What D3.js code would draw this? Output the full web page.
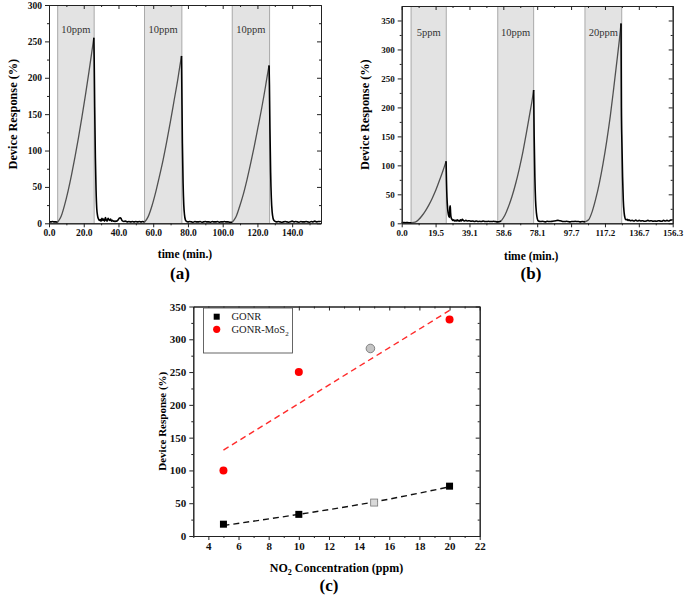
<!DOCTYPE html>
<html>
<head>
<meta charset="utf-8">
<script src="https://cdn.jsdelivr.net/npm/d3@7"></script>
<style>
  html, body { margin: 0; padding: 0; background: #fff; }
  svg { display: block; }
</style>
</head>
<body>
<div id="chart"></div>
<script>
// ---------------- DATA ----------------
// Panel (a): repeated 10 ppm exposures
const aPulseStart = [5, 55, 105.5];
const aPulseEnd   = [26, 76.5, 127];
const aPulseLabel = ["10ppm", "10ppm", "10ppm"];
const aTime = [0,1,2,3,4,5,
  7,9,11,13,15,17,19,21,23,24.5,25.8,
  26,26.3,26.7,27.1,27.5,28,28.5,29,
  29.5,30,30.5,31,31.5,32,32.5,33,33.5,34,34.5,35,35.5,36,36.5,37,37.5,38,38.5,39,39.5,40,40.5,41,41.5,42,42.5,43,44,45,46,47,48,49,50,51,52,53,54,55,
  57.1,59.3,61.4,63.5,65.7,67.8,69.9,72,74.2,75.2,76.3,
  76.5,76.8,77.2,77.6,78,78.5,79,
  80,81,82,83,84,85,86,87,88,89,90,91,92,93,94,95,96,97,98,99,100,101,102,103,104,105.5,
  107.6,109.7,111.9,114,116.1,118.2,120.3,122.5,124.6,125.6,126.7,
  126.9,127.2,127.6,128,128.5,129,129.5,130,
  131,132,133,134,135,136,137,138,139,140,141,142,143,144,145,146,147,148,149,150,151,152,153,154,155,156,156.5];
const aResp = [2,2,2.5,2,2,1.5,
  9.6,25.3,44.7,67,91.5,118,146.5,176.5,208,233,255,
  228,160,90,45,20,10,6,4,
  5,3,7,4,6,3,8,4,3,7,5,4,6,3,4,3,3,2.5,3,3,4,5.5,7,7.5,6.5,4,3,2.5,3,2,2.5,2,2.5,2,2.5,2,2.5,2,2.5,1.5,
  9.2,24.2,42.6,63.7,87.2,112.5,139.6,168.4,198.5,214,230,
  180,110,55,25,12,5,3,
  2,2.5,2,1.5,2.5,2,2,2.5,1.5,2,2.5,2,2,1.5,2.5,2,2,2.5,1.5,2,2,2.5,2,2,1.5,1.5,
  8.6,22.8,40.1,60.1,82.2,106.1,131.7,158.8,187.3,202,217,
  190,130,70,35,15,7,4,3,
  2,2.5,2,1.5,2,2.5,2,1.5,2,3,2,2.5,2,1.5,2.5,2,2,2.5,2,1.5,2.5,2,3,2,2.5,2.5,3];
const aXTicks = [0, 20, 40, 60, 80, 100, 120, 140];
const aXTickLabels = ["0.0", "20.0", "40.0", "60.0", "80.0", "100.0", "120.0", "140.0"];
const aYTicks = [0, 50, 100, 150, 200, 250, 300];

// Panel (b): 5 / 10 / 20 ppm exposures
const bPulseStart = [5.4, 55.4, 105.7];
const bPulseEnd   = [25.7, 76.1, 126.9];
const bPulseLabel = ["5ppm", "10ppm", "20ppm"];
const bTime = [0,1,2,3,4,5,5.8,
  7.8,9.8,11.7,13.7,15.7,17.7,19.7,21.6,23.6,24.6,25.6,
  25.8,26.1,26.5,27,27.5,27.8,28,28.2,28.5,29,29.5,30,30.5,31,31.5,32,32.5,33,33.5,34,34.5,35,35.5,36,37,38,39,40,41,42,43,44,45,46,47,48,49,50,51,52,53,54,55.3,
  57.4,59.5,61.5,63.6,65.7,67.8,69.9,71.9,74,75.1,76.1,
  76.4,76.8,77.2,77.7,78.2,78.8,
  80,81,82,83,84,85,86,87,88,89,90,91,92,93,94,95,96,97,98,99,100,101,102,103,104,105.7,
  107.8,109.9,111.9,114,116.1,118.2,120.3,122.3,124.4,125.5,126.5,
  126.7,127,127.4,127.8,128.3,128.8,129.3,
  130,130.5,131,132,133,134,135,136,137,138,139,140,141,142,143,144,145,146,147,148,149,150,151,152,153,154,155,156.3];
const bResp = [1,1.5,1,1.5,1,1,1,
  1.9,6.4,13,21.5,31.8,43.8,57.4,72.4,89,97.8,107,
  75,45,25,14,10,28,30,18,10,7,5,6,4,5,4,6,4,5,3.5,6,4,7,5,4,5,4,4.5,3.5,4,3,4,3,3.5,3,4,3,3,3.5,3,3,3.5,3,2.5,
  4.1,13.8,28,46.2,68.3,94.1,123.3,155.7,191.4,210.2,230,
  150,80,40,18,8,4,
  3,3.5,3,2.5,3.5,3,3,3.5,4,4.5,5,4.5,4,3,3,3.5,3,2.5,3,3,3.5,3,3,2.5,3,2.5,
  6.1,20.6,42,69.3,102.5,141.1,184.9,233.6,287,315.3,345,
  200,140,80,40,18,9,6,
  7,5,6,4.5,5,4,5.5,4,5,4,4.5,3.5,4,5,4,4.5,3.5,4,3.5,4.5,4,3.5,5,4,5,4,5.5,6];
const bXTicks = [0, 19.54, 39.08, 58.61, 78.15, 97.69, 117.23, 136.76, 156.3];
const bXTickLabels = ["0.0", "19.5", "39.1", "58.6", "78.1", "97.7", "117.2", "136.7", "156.3"];
const bYTicks = [0, 50, 100, 150, 200, 250, 300, 350];

// Panel (c): response vs NO2 concentration
const concGONR = [5, 10, 20];
const respGONR = [18, 33, 76];
const concGONRGray = [15];
const respGONRGray = [51];
const concMoS2 = [5, 10, 20];
const respMoS2 = [100, 250, 330];
const concMoS2Gray = [14.75];
const respMoS2Gray = [286];
const fitGONRX = [5, 10, 15, 20];
const fitGONRY = [16, 33, 52, 75];
const fitMoS2X = [5, 20];
const fitMoS2Y = [131, 344];
const cXTicks = [4, 6, 8, 10, 12, 14, 16, 18, 20, 22];
const cYTicks = [0, 50, 100, 150, 200, 250, 300, 350];
const legendNames = ["GONR", "GONR-MoS"];

// ---------------- DRAW ----------------
const W = 685, H = 595;
const SERIF = "'Liberation Serif', 'Times New Roman', serif";
const svg = d3.select("#chart").append("svg").attr("width", W).attr("height", H)
  .attr("font-family", SERIF);
svg.append("rect").attr("width", W).attr("height", H).attr("fill", "#fff");

function styleAxis(sel, fontSize) {
  sel.select(".domain").attr("stroke", "#222").attr("stroke-width", 1);
  sel.selectAll(".tick line").attr("stroke", "#222").attr("stroke-width", 1);
  sel.selectAll(".tick text").attr("font-family", SERIF).attr("font-weight", "bold")
    .attr("font-size", fontSize).attr("fill", "#111");
  sel.attr("font-family", SERIF);
}

function mids(arr) {
  const out = [];
  for (let i = 0; i < arr.length - 1; i++) out.push((arr[i] + arr[i + 1]) / 2);
  return out;
}

function drawFrame(x, y, p) {
  const g = svg.append("g");
  const xm = mids(p.xTicks).concat(p.xExtraMinor || []);
  const ym = mids(p.yTicks).concat(p.yExtraMinor || []);
  g.append("g").attr("transform", `translate(0,${p.bottom})`)
    .call(d3.axisBottom(x).tickValues(xm).tickSize(2).tickSizeOuter(0).tickFormat(""))
    .call(s => styleAxis(s, p.tickFont));
  g.append("g").attr("transform", `translate(0,${p.top})`)
    .call(d3.axisTop(x).tickValues(xm).tickSize(-2).tickSizeOuter(0).tickFormat(""))
    .call(s => styleAxis(s, p.tickFont));
  g.append("g").attr("transform", `translate(${p.left},0)`)
    .call(d3.axisLeft(y).tickValues(ym).tickSize(2).tickSizeOuter(0).tickFormat(""))
    .call(s => styleAxis(s, p.tickFont));
  g.append("g").attr("transform", `translate(${p.right},0)`)
    .call(d3.axisRight(y).tickValues(ym).tickSize(-2).tickSizeOuter(0).tickFormat(""))
    .call(s => styleAxis(s, p.tickFont));
  g.append("g").attr("transform", `translate(0,${p.bottom})`)
    .call(d3.axisBottom(x).tickValues(p.xTicks).tickSize(4).tickSizeOuter(0).tickPadding(2)
      .tickFormat((d, i) => p.xLabels ? p.xLabels[i] : d))
    .call(s => styleAxis(s, p.tickFont));
  g.append("g").attr("transform", `translate(0,${p.top})`)
    .call(d3.axisTop(x).tickValues(p.xTicks).tickSize(-4).tickSizeOuter(0).tickFormat(""))
    .call(s => styleAxis(s, p.tickFont));
  g.append("g").attr("transform", `translate(${p.left},0)`)
    .call(d3.axisLeft(y).tickValues(p.yTicks).tickSize(4).tickSizeOuter(0).tickPadding(3))
    .call(s => styleAxis(s, p.tickFont));
  g.append("g").attr("transform", `translate(${p.right},0)`)
    .call(d3.axisRight(y).tickValues(p.yTicks).tickSize(-4).tickSizeOuter(0).tickFormat(""))
    .call(s => styleAxis(s, p.tickFont));
}

function drawTimePanel(p) {
  const x = d3.scaleLinear().domain(p.xDomain).range([p.left, p.right]);
  const y = d3.scaleLinear().domain(p.yDomain).range([p.bottom, p.top]);
  const g = svg.append("g");
  p.starts.forEach((s, i) => {
    const e = p.ends[i];
    g.append("rect").attr("x", x(s)).attr("y", p.top)
      .attr("width", x(e) - x(s)).attr("height", p.bottom - p.top)
      .attr("fill", "#e3e3e3");
    [s, e].forEach(v => g.append("line").attr("x1", x(v)).attr("x2", x(v))
      .attr("y1", p.top).attr("y2", p.bottom).attr("stroke", "#a9a9a9").attr("stroke-width", 1));
    g.append("text").attr("x", x((s + e) / 2)).attr("y", y(p.labelY))
      .attr("text-anchor", "middle").attr("dominant-baseline", "central")
      .attr("font-size", 10.5).attr("fill", "#333").text(p.labels[i]);
  });
  const peaks = p.starts.map((s, k) => {
    let best = -1, bt = s;
    p.time.forEach((t, i) => {
      if (t >= s && t <= p.ends[k] + 0.5 && p.resp[i] > best) { best = p.resp[i]; bt = t; }
    });
    return bt;
  });
  const isRise = (t0, t1) => p.starts.some((s, k) => t0 >= s - 1e-6 && t1 <= peaks[k] + 1e-6);
  const pts = p.time.map((t, i) => [t, p.resp[i]]);
  const runs = [];
  let cur = null;
  for (let i = 0; i < pts.length - 1; i++) {
    const r = isRise(pts[i][0], pts[i + 1][0]);
    if (!cur || cur.rise !== r) {
      cur = { rise: r, pts: [pts[i]] };
      runs.push(cur);
    }
    cur.pts.push(pts[i + 1]);
  }
  const line = d3.line().x(d => x(d[0])).y(d => y(d[1])).curve(d3.curveMonotoneX);
  runs.forEach(r => {
    g.append("path").attr("d", line(r.pts)).attr("fill", "none")
      .attr("stroke", r.rise ? "#505050" : "#000")
      .attr("stroke-width", r.rise ? 1.3 : 1.6)
      .attr("stroke-linejoin", "round");
  });
  drawFrame(x, y, p);
  svg.append("text").attr("x", (p.left + p.right) / 2 + p.xTitleDx).attr("y", p.xTitleY)
    .attr("text-anchor", "middle").attr("font-weight", "bold").attr("font-size", 11.5)
    .text("time (min.)");
  svg.append("text").attr("transform", `translate(${p.yTitleX},${(p.top + p.bottom) / 2}) rotate(-90)`)
    .attr("text-anchor", "middle").attr("dominant-baseline", "central")
    .attr("font-weight", "bold").attr("font-size", 12.3).text("Device Response (%)");
  svg.append("text").attr("x", p.panelX).attr("y", p.panelY)
    .attr("text-anchor", "middle").attr("font-weight", "bold").attr("font-size", 17)
    .text(p.panelLabel);
}

drawTimePanel({
  left: 49, right: 321, top: 5, bottom: 223.3,
  xDomain: [0, 156.6], yDomain: [0, 300],
  xTicks: aXTicks, xLabels: aXTickLabels, xExtraMinor: [150],
  yTicks: aYTicks, tickFont: 9.5,
  starts: aPulseStart, ends: aPulseEnd, labels: aPulseLabel, labelY: 267,
  time: aTime, resp: aResp,
  xTitleY: 258, xTitleDx: 0, yTitleX: 13, panelX: 180, panelY: 279, panelLabel: "(a)"
});

drawTimePanel({
  left: 401.7, right: 672.7, top: 6, bottom: 223.3,
  xDomain: [0, 156.3], yDomain: [0, 375],
  xTicks: bXTicks, xLabels: bXTickLabels,
  yTicks: bYTicks, tickFont: 9, yExtraMinor: [],
  starts: bPulseStart, ends: bPulseEnd, labels: bPulseLabel, labelY: 330,
  time: bTime, resp: bResp,
  xTitleY: 260, xTitleDx: -6, yTitleX: 365, panelX: 531, panelY: 279, panelLabel: "(b)"
});

// ----- Panel (c) -----
(function () {
  const p = {
    left: 193.3, right: 479.7, top: 306.5, bottom: 536,
    xTicks: cXTicks, yTicks: cYTicks, tickFont: 11, xExtraMinor: [3]
  };
  const x = d3.scaleLinear().domain([3, 22]).range([p.left, p.right]);
  const y = d3.scaleLinear().domain([0, 350]).range([p.bottom, p.top]);
  const g = svg.append("g");
  g.append("path").attr("d", d3.line().x(d => x(d[0])).y(d => y(d[1])).curve(d3.curveMonotoneX)(fitGONRX.map((v, i) => [v, fitGONRY[i]])))
    .attr("fill", "none").attr("stroke", "#111").attr("stroke-width", 1.4).attr("stroke-dasharray", "6,4");
  g.append("path").attr("d", d3.line().x(d => x(d[0])).y(d => y(d[1]))(fitMoS2X.map((v, i) => [v, fitMoS2Y[i]])))
    .attr("fill", "none").attr("stroke", "#ff2a2a").attr("stroke-width", 1.4).attr("stroke-dasharray", "6,4");
  const sq = 7;
  g.selectAll(".gsq").data(concGONR).enter().append("rect")
    .attr("x", (d, i) => x(d) - sq / 2).attr("y", (d, i) => y(respGONR[i]) - sq / 2)
    .attr("width", sq).attr("height", sq).attr("fill", "#000");
  g.selectAll(".gsq2").data(concGONRGray).enter().append("rect")
    .attr("x", (d, i) => x(d) - sq / 2).attr("y", (d, i) => y(respGONRGray[i]) - sq / 2)
    .attr("width", sq).attr("height", sq).attr("fill", "#d9d9d9").attr("stroke", "#777").attr("stroke-width", 0.8);
  g.selectAll(".mc").data(concMoS2).enter().append("circle")
    .attr("cx", d => x(d)).attr("cy", (d, i) => y(respMoS2[i])).attr("r", 4).attr("fill", "#ff0000");
  g.selectAll(".mc2").data(concMoS2Gray).enter().append("circle")
    .attr("cx", d => x(d)).attr("cy", (d, i) => y(respMoS2Gray[i])).attr("r", 4.3)
    .attr("fill", "#c4c4c4").attr("stroke", "#6a6a6a").attr("stroke-width", 0.8);
  drawFrame(x, y, p);
  const lg = svg.append("g").attr("transform", "translate(203.5,308)");
  lg.append("rect").attr("width", 89).attr("height", 45).attr("fill", "#fff")
    .attr("stroke", "#555").attr("stroke-width", 0.9);
  lg.append("rect").attr("x", 13.2 - 3).attr("y", 8.7 - 3).attr("width", 6).attr("height", 6).attr("fill", "#000");
  lg.append("text").attr("x", 28).attr("y", 8.7).attr("dominant-baseline", "central")
    .attr("font-size", 10.5).attr("fill", "#222").text(legendNames[0]);
  lg.append("circle").attr("cx", 13.2).attr("cy", 21.3).attr("r", 3.6).attr("fill", "#ff0000");
  const t2 = lg.append("text").attr("x", 28).attr("y", 25).attr("font-size", 10.5).attr("fill", "#222");
  t2.append("tspan").text(legendNames[1]);
  t2.append("tspan").attr("font-size", 7).attr("dy", 3).text("2");
  const xt = svg.append("text").attr("x", 336.5).attr("y", 572).attr("text-anchor", "middle")
    .attr("font-weight", "bold").attr("font-size", 12);
  xt.append("tspan").text("NO");
  xt.append("tspan").attr("font-size", 8).attr("dy", 3).text("2");
  xt.append("tspan").attr("dy", -3).text(" Concentration (ppm)");
  svg.append("text").attr("transform", `translate(161.5,${(p.top + p.bottom) / 2}) rotate(-90)`)
    .attr("text-anchor", "middle").attr("dominant-baseline", "central")
    .attr("font-weight", "bold").attr("font-size", 11).text("Device Response (%)");
  svg.append("text").attr("x", 329).attr("y", 591).attr("text-anchor", "middle")
    .attr("font-weight", "bold").attr("font-size", 17).text("(c)");
})();
</script>
</body>
</html>
